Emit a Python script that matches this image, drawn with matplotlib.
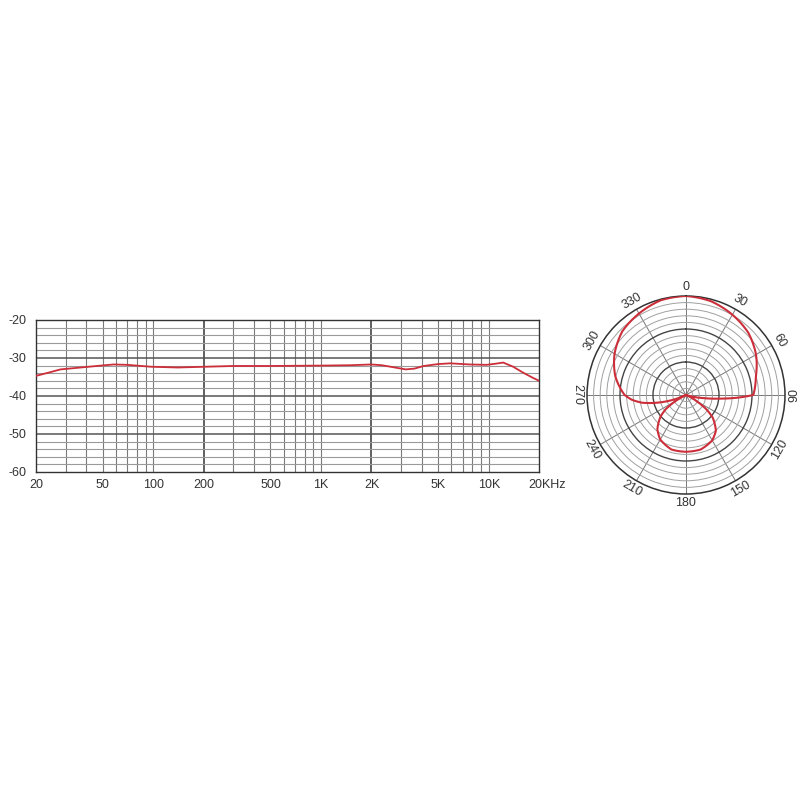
import numpy as np
import matplotlib
matplotlib.use('Agg')
import matplotlib.pyplot as plt

plt.rcParams['font.family'] = ['Liberation Sans', 'DejaVu Sans']
plt.rcParams['axes.unicode_minus'] = False

# frequency response
freq_hz = [20, 24, 28, 35, 46, 58, 70, 85, 97, 140, 203, 300, 500, 1000, 1500, 2000,
           2300, 2600, 3200, 3600, 4100, 5000, 5900, 7700, 9700, 11000, 12200, 14000,
           16100, 18500, 20000]
level_db = [-34.7, -33.8, -33.0, -32.6, -32.1, -31.7, -31.8, -32.1, -32.3, -32.5, -32.3,
            -32.1, -32.1, -32.0, -31.9, -31.7, -31.9, -32.3, -33.0, -32.8, -32.1, -31.6,
            -31.4, -31.7, -31.8, -31.5, -31.2, -32.3, -33.9, -35.3, -36.0]
freq_ticks = [20, 50, 100, 200, 500, 1000, 2000, 5000, 10000]
freq_labels = ['20', '50', '100', '200', '500', '1K', '2K', '5K', '10K']
db_ticks = [-20, -30, -40, -50, -60]

# polar pattern (degrees clockwise from front, dB relative)
polar_deg = [0, 15, 30, 45, 60, 75, 90, 93, 96, 100, 105, 110, 115, 120, 125, 130, 140,
             150, 165, 180, 195, 210, 220, 230, 235, 240, 245, 250, 255, 260, 265, 270,
             285, 300, 315, 330, 345, 360]
polar_db = [0.0, -0.6, -1.9, -3.3, -5.5, -8.1, -9.6, -14.4, -19.5, -24.6, -28.5, -30.0,
            -28.5, -26.4, -22.5, -19.5, -15.9, -14.1, -12.9, -12.8, -12.9, -14.4, -16.5,
            -20.0, -22.5, -26.4, -30.0, -25.5, -21.0, -16.5, -13.5, -11.4, -7.8, -5.0,
            -2.7, -1.5, -0.3, 0.0]
angle_labels = [0, 30, 60, 90, 120, 150, 180, 210, 240, 270, 300, 330]

RED = '#cc2e3a'
TXT = '#333333'

fig = plt.figure(figsize=(8, 8), dpi=100)

# ---- frequency response ----
ax = fig.add_axes([0.045, 0.41, 0.629, 0.19])
ax.set_xscale('log')
ax.set_xlim(20, 20000)
ax.set_ylim(-60, -20)

for f in [30, 40, 50, 60, 70, 80, 90, 100, 300, 400, 500, 600, 700, 800, 900, 1000,
          3000, 4000, 5000, 6000, 7000, 8000, 9000, 10000]:
    ax.axvline(f, color='#7a7a7a', lw=0.8, zorder=1)
for f in [200, 2000]:
    ax.axvline(f, color='#444444', lw=1.2, zorder=1)
for y in range(-58, -20, 2):
    if y % 10 == 0:
        ax.axhline(y, color='#555555', lw=1.1, zorder=1)
    else:
        ax.axhline(y, color='#9a9a9a', lw=0.8, zorder=1)

ax.plot(freq_hz, level_db, color=RED, lw=1.3, zorder=3)

ax.set_xticks(freq_ticks)
ax.set_xticklabels(freq_labels)
ax.xaxis.set_minor_locator(matplotlib.ticker.NullLocator())
ax.set_yticks(db_ticks)
ax.tick_params(length=0, labelsize=9, labelcolor=TXT)
ax.tick_params(axis='x', pad=5)
ax.tick_params(axis='y', pad=7)
ax.annotate('20KHz', xy=(20000, 0), xycoords=('data', 'axes fraction'),
            xytext=(-8, -5), textcoords='offset points', ha='left', va='top',
            fontsize=9, color=TXT)
for s in ax.spines.values():
    s.set_color('#333333')
    s.set_linewidth(1.0)

# ---- polar pattern ----
pax = fig.add_axes([0.73375, 0.3825, 0.2475, 0.2475], projection='polar')
pax.set_theta_zero_location('N')
pax.set_theta_direction(-1)
pax.set_ylim(-30, 0)
pax.set_yticks(list(range(-28, 0, 2)))
pax.set_yticklabels([])
pax.set_xticks(np.deg2rad(angle_labels))
pax.set_xticklabels([])
pax.grid(True)
for val, gl in zip(range(-28, 0, 2), pax.yaxis.get_gridlines()):
    if val % 10 == 0:
        gl.set_color('#444444')
        gl.set_linewidth(1.0)
    else:
        gl.set_color('#a0a0a0')
        gl.set_linewidth(0.7)
    gl.set_linestyle('-')
for gl in pax.xaxis.get_gridlines():
    gl.set_color('#777777')
    gl.set_linewidth(0.7)
    gl.set_linestyle('-')
pax.spines['polar'].set_color('#333333')
pax.spines['polar'].set_linewidth(1.1)

line, = pax.plot(np.deg2rad(polar_deg), polar_db, color=RED, lw=1.5, zorder=4)
line.get_path()._interpolation_steps = 30  # draw segments as arcs, not chords

for a in angle_labels:
    if 90 <= a < 270:
        rot = 180 - a
    elif a == 270:
        rot = -90
    else:
        rot = -a
    pax.text(np.deg2rad(a), 2.8, str(a), rotation=rot, rotation_mode='anchor',
             ha='center', va='center', fontsize=9, color=TXT, clip_on=False)

fig.savefig('out.png', dpi=100, facecolor='white')
